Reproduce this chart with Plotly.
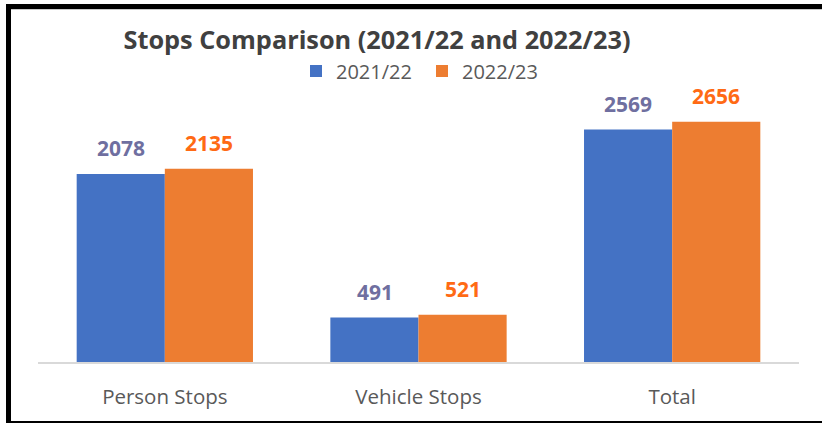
import plotly.graph_objects as go

categories = ["Person Stops", "Vehicle Stops", "Total"]
series_names = ["2021/22", "2022/23"]
values_2122 = [2078, 491, 2569]
values_2223 = [2135, 521, 2656]

W, H = 822, 423
ML, MR, MT, MB = 38, 23, 60, 61
PW, PH = W - ML - MR, H - MT - MB

def px_x(p):
    return (p - ML) / PW

def px_y(p):
    return 1 - (p - MT) / PH

bar_colors = ["#4472C4", "#ED7D31"]
label_colors = ["#6F6FA0", "#FF6A14"]
font_fam = "Open Sans, Noto Sans, DejaVu Sans, sans-serif"

fig = go.Figure()
for name, vals, col in zip(series_names, [values_2122, values_2223], bar_colors):
    fig.add_trace(go.Bar(name=name, x=categories, y=vals, marker_color=col,
                         marker_line_width=0))

annotations = []
for i, (vals, lc) in enumerate(zip([values_2122, values_2223], label_colors)):
    shift = -44 if i == 0 else 44
    for c, v in zip(categories, vals):
        annotations.append(dict(x=c, y=v, text=str(v), showarrow=False,
                                xshift=shift, yshift=10, yanchor="bottom",
                                font=dict(size=21, color=lc, family=font_fam,
                                          weight="bold")))

shapes = [
    dict(type="rect", xref="paper", yref="paper", x0=px_x(6), x1=px_x(W + 2),
         y0=px_y(4), y1=px_y(9), fillcolor="black", line_width=0, layer="above"),
    dict(type="line", xref="paper", yref="paper", x0=px_x(11), x1=px_x(W + 2),
         y0=px_y(9.5), y1=px_y(9.5), line=dict(color="#C8C8C8", width=1)),
    dict(type="rect", xref="paper", yref="paper", x0=px_x(6), x1=px_x(11),
         y0=px_y(4), y1=px_y(H + 2), fillcolor="black", line_width=0, layer="above"),
    dict(type="rect", xref="paper", yref="paper", x0=px_x(6), x1=px_x(W + 2),
         y0=px_y(421), y1=px_y(H + 2), fillcolor="black", line_width=0, layer="above"),
]

fig.update_layout(
    width=W, height=H,
    margin=dict(l=ML, r=MR, t=MT, b=MB),
    paper_bgcolor="white", plot_bgcolor="white",
    barmode="group", bargap=0.305, bargroupgap=0,
    title=dict(text="<b>Stops Comparison (2021/22 and 2022/23)</b>",
               x=377 / W, xanchor="center", xref="container",
               y=1 - 40 / H, yanchor="middle", yref="container",
               font=dict(size=25.3, color="#404040", family=font_fam)),
    legend=dict(orientation="h", x=px_x(296), xanchor="left",
                y=px_y(71), yanchor="middle",
                font=dict(size=20, color="#595959", family=font_fam),
                itemwidth=30, entrywidth=81, entrywidthmode="pixels",
                traceorder="normal", bgcolor="rgba(0,0,0,0)"),
    xaxis=dict(showgrid=False, showline=True, linecolor="#D9D9D9", linewidth=1.5,
               ticks="", tickfont=dict(size=20.5, color="#595959", family=font_fam),
               ticklabelstandoff=16, fixedrange=True),
    yaxis=dict(visible=False, range=[0, PH / 0.0905], showgrid=False,
               zeroline=False, fixedrange=True),
    annotations=annotations,
    shapes=shapes,
    showlegend=True,
)

fig.write_html("out.html", include_plotlyjs=True,
               config={"displayModeBar": False},
               post_script="document.body.style.margin='0';document.body.style.overflow='hidden';")
